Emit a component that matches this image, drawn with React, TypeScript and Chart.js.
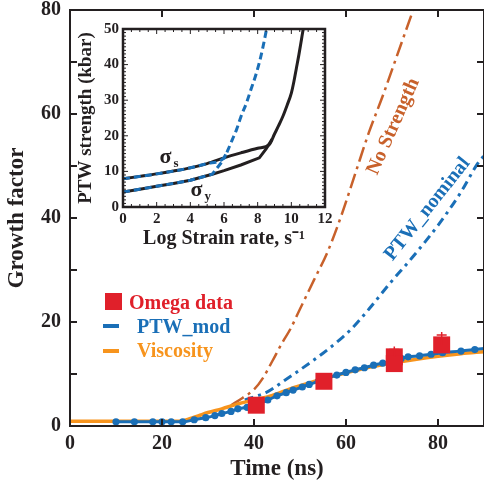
import React, { useEffect, useRef } from 'react';
import { Chart, registerables } from 'chart.js';

Chart.register(...registerables);

const SERIF = '"Liberation Serif", "Times New Roman", Times, serif';
const INK = '#231f20';
const RED = '#e0202a';
const BLUE = '#1a6fb7';
const ORANGE = '#f7941d';
const BROWN = '#c8612b';

// ---------------- main chart data ----------------
const timeTicks = [0, 20, 40, 60, 80];
const growthTicks = [0, 20, 40, 60, 80];
const growthAllTicks = [0, 10, 20, 30, 40, 50, 60, 70, 80];

const omegaTime = [40.5, 55.2, 70.5, 70.5, 80.8];
const omegaGrowth = [4.0, 8.6, 13.3, 12.0, 15.6];
const omegaErrTop = [null, null, 15.3, null, 18.1];

const ptwModTime = [10, 14, 18, 20, 22, 24.5, 27, 29.5, 31.5, 33, 35, 36.5, 38.5, 40.5, 43, 45, 47, 48.5, 50.5, 52, 54, 56, 58, 60, 62, 64, 66, 68, 70, 72, 73.5, 76, 78.5, 81, 85, 88, 90];
const ptwModGrowth = [0.8, 0.8, 0.8, 0.8, 0.8, 0.8, 1.2, 1.6, 2.0, 2.4, 2.8, 3.3, 3.6, 4.2, 5.0, 5.8, 6.4, 6.9, 7.5, 8.0, 8.6, 9.2, 9.8, 10.3, 10.8, 11.2, 11.7, 12.1, 12.5, 13.0, 13.3, 13.5, 13.8, 14.1, 14.4, 14.7, 14.9];

const viscTime = [0, 24, 26, 28, 30, 33, 36, 38, 40, 44, 48, 52, 56, 60, 65, 70, 75, 80, 85, 90];
const viscGrowth = [0.9, 0.9, 1.4, 2.0, 2.6, 3.3, 4.1, 4.6, 5.0, 5.9, 7.2, 8.3, 9.3, 10.2, 11.3, 12.1, 12.8, 13.4, 13.9, 14.3];

const noStrTime = [35, 37.5, 40, 42, 44, 46, 48, 50, 53, 56, 59, 62, 65, 68, 71, 75, 77];
const noStrGrowth = [4.0, 5.4, 7.0, 9.3, 12.5, 15.8, 18.8, 22.5, 28, 33.5, 40.5, 48.5, 56.5, 63.5, 71, 81, 86];

const ptwNomTime = [38, 40, 42.8, 46.7, 50, 55, 59.3, 61, 65, 69.6, 74.3, 80, 85, 88.5, 90];
const ptwNomGrowth = [5.0, 5.6, 6.5, 8.8, 10.8, 14.0, 17.1, 18.5, 22.5, 27.5, 32.3, 38.6, 45, 50.3, 52];

// ---------------- inset data ----------------
const strainTicks = [0, 2, 4, 6, 8, 10, 12];
const strengthTicks = [0, 10, 20, 30, 40, 50];

const sigmaSRate = [0, 1, 2, 3, 4, 5, 6, 7, 8, 8.7, 9, 9.25, 9.5, 9.75, 10, 10.15, 10.3, 10.45, 10.6, 10.7, 10.8];
const sigmaSStrength = [7.9, 8.6, 9.3, 10.1, 11.0, 12.2, 13.8, 15.2, 16.5, 17.6, 20.5, 22.9, 25.5, 28.6, 32, 35.2, 39, 42.8, 47, 49.8, 52];
const sigmaYRate = [0, 1, 2, 3, 4, 5.3, 6, 7, 8.1, 8.5, 8.85];
const sigmaYStrength = [4.2, 5.0, 5.8, 6.6, 7.5, 9.2, 10.2, 11.8, 13.8, 16.3, 19.0];

const modSRate = [0, 2, 4, 5, 6, 6.25, 6.5, 6.75, 7, 7.34, 7.6, 7.93, 8.2, 8.52, 8.6];
const modSStrength = [7.9, 9.3, 11.0, 12.2, 13.8, 16.2, 19, 21.8, 25.3, 29.3, 33, 37.7, 42.5, 49.8, 52];
const modYRate = [0, 2, 4, 5.3, 5.96, 6.1];
const modYStrength = [4.2, 5.8, 7.5, 9.2, 13.2, 14.8];

const pts = (xs: number[], ys: number[]) => xs.map((x, i) => ({ x, y: ys[i] }));

const mainDecor = {
  id: 'mainDecor',
  afterDatasetsDraw(chart: any) {
    const { ctx, chartArea: a, scales } = chart;
    const x = scales.x;
    const y = scales.y;
    ctx.save();
    // error bars
    ctx.strokeStyle = RED;
    ctx.lineWidth = 1.5;
    omegaTime.forEach((t, i) => {
      const top = omegaErrTop[i];
      if (top == null) return;
      const px = x.getPixelForValue(t);
      const p0 = y.getPixelForValue(omegaGrowth[i]);
      const p1 = y.getPixelForValue(top);
      ctx.beginPath();
      ctx.moveTo(px, p0);
      ctx.lineTo(px, p1);
      ctx.moveTo(px - 5, p1 + 3);
      ctx.lineTo(px + 5, p1 + 3);
      ctx.stroke();
    });
    // frame
    ctx.strokeStyle = INK;
    ctx.lineWidth = 2;
    ctx.strokeRect(a.left, a.top, a.right - a.left, a.bottom - a.top);
    ctx.beginPath();
    timeTicks.forEach((v) => {
      const px = x.getPixelForValue(v);
      ctx.moveTo(px, a.bottom);
      ctx.lineTo(px, a.bottom - 7);
      ctx.moveTo(px, a.top);
      ctx.lineTo(px, a.top + 7);
    });
    growthAllTicks.forEach((v) => {
      const py = y.getPixelForValue(v);
      ctx.moveTo(a.left, py);
      ctx.lineTo(a.left + 7, py);
      ctx.moveTo(a.right, py);
      ctx.lineTo(a.right - 7, py);
    });
    ctx.stroke();
    // legend
    const lx = a.left;
    const ly = a.top;
    ctx.fillStyle = RED;
    ctx.fillRect(lx + 35, ly + 283, 17, 17);
    ctx.lineWidth = 4;
    ctx.strokeStyle = BLUE;
    ctx.beginPath();
    ctx.moveTo(lx + 33, ly + 316);
    ctx.lineTo(lx + 49, ly + 316);
    ctx.stroke();
    ctx.strokeStyle = ORANGE;
    ctx.beginPath();
    ctx.moveTo(lx + 33, ly + 341);
    ctx.lineTo(lx + 49, ly + 341);
    ctx.stroke();
    ctx.font = `bold 20px ${SERIF}`;
    ctx.textAlign = 'left';
    ctx.textBaseline = 'alphabetic';
    ctx.fillStyle = RED;
    ctx.fillText('Omega data', lx + 59, ly + 299);
    ctx.fillStyle = BLUE;
    ctx.fillText('PTW_mod', lx + 67, ly + 323);
    ctx.fillStyle = ORANGE;
    ctx.fillText('Viscosity', lx + 67, ly + 347);
    // curve annotations
    const note = (text: string, tx: number, gy: number, deg: number, color: string) => {
      ctx.save();
      ctx.translate(x.getPixelForValue(tx), y.getPixelForValue(gy));
      ctx.rotate((deg * Math.PI) / 180);
      ctx.fillStyle = color;
      ctx.font = `bold 20px ${SERIF}`;
      ctx.textAlign = 'center';
      ctx.textBaseline = 'middle';
      ctx.fillText(text, 0, 0);
      ctx.restore();
    };
    note('No Strength', 70.3, 57.6, -66, BROWN);
    note('PTW_nominal', 77.7, 41.7, -51.5, BLUE);
    ctx.restore();
  },
};

const insetDecor = {
  id: 'insetDecor',
  afterDatasetsDraw(chart: any) {
    const { ctx, chartArea: a, scales } = chart;
    const x = scales.x;
    const y = scales.y;
    ctx.save();
    ctx.strokeStyle = INK;
    ctx.lineWidth = 2.5;
    ctx.strokeRect(a.left, a.top, a.right - a.left, a.bottom - a.top);
    ctx.lineWidth = 1;
    ctx.beginPath();
    for (let v = 0; v <= 12.001; v += 0.5) {
      const px = x.getPixelForValue(v);
      const len = Math.abs(v % 2) < 1e-6 ? 5 : 3;
      ctx.moveTo(px, a.bottom);
      ctx.lineTo(px, a.bottom - len);
      ctx.moveTo(px, a.top);
      ctx.lineTo(px, a.top + len);
    }
    for (let v = 0; v <= 50.001; v += 1) {
      const py = y.getPixelForValue(v);
      const len = v % 10 === 0 ? 5 : 3;
      ctx.moveTo(a.left, py);
      ctx.lineTo(a.left + len, py);
      ctx.moveTo(a.right, py);
      ctx.lineTo(a.right - len, py);
    }
    ctx.stroke();
    const sigma = (sub: string, sx: number, sy: number) => {
      const px = x.getPixelForValue(sx);
      const py = y.getPixelForValue(sy);
      ctx.fillStyle = INK;
      ctx.textAlign = 'center';
      ctx.textBaseline = 'alphabetic';
      ctx.font = `bold 22px ${SERIF}`;
      ctx.fillText('σ', px, py + 5);
      ctx.textAlign = 'left';
      ctx.font = `bold 13px ${SERIF}`;
      ctx.fillText(sub, px + 8, py + 9);
    };
    sigma('s', 2.53, 13.8);
    sigma('y', 4.37, 4.5);
    ctx.restore();
  },
};

export default function App() {
  const mainRef = useRef<HTMLCanvasElement>(null);
  const insetRef = useRef<HTMLCanvasElement>(null);

  useEffect(() => {
    const tickFont = { family: SERIF, size: 20, weight: 'bold' as const };
    const main = new Chart(mainRef.current as HTMLCanvasElement, {
      type: 'line',
      data: {
        datasets: [
          {
            label: 'Omega data',
            data: pts(omegaTime, omegaGrowth),
            showLine: false,
            pointStyle: 'rect',
            pointRadius: 12,
            pointBackgroundColor: RED,
            pointBorderColor: RED,
            pointBorderWidth: 0,
            borderColor: RED,
            backgroundColor: RED,
          },
          {
            label: 'PTW_mod',
            data: pts(ptwModTime, ptwModGrowth),
            borderColor: BLUE,
            backgroundColor: BLUE,
            borderWidth: 3,
            cubicInterpolationMode: 'monotone',
            pointRadius: ptwModTime.map((t) => (t >= 90 ? 0 : 3.6)),
            pointBackgroundColor: BLUE,
            pointBorderWidth: 0,
          },
          {
            label: 'Viscosity',
            data: pts(viscTime, viscGrowth),
            borderColor: ORANGE,
            borderWidth: 3.5,
            cubicInterpolationMode: 'monotone',
            pointRadius: 0,
          },
          {
            label: 'No Strength',
            data: pts(noStrTime, noStrGrowth),
            borderColor: BROWN,
            borderWidth: 2.5,
            borderDash: [15, 5, 3, 5],
            cubicInterpolationMode: 'monotone',
            pointRadius: 0,
          },
          {
            label: 'PTW_nominal',
            data: pts(ptwNomTime, ptwNomGrowth),
            borderColor: BLUE,
            borderWidth: 3,
            borderDash: [9, 5, 3, 5],
            cubicInterpolationMode: 'monotone',
            pointRadius: 0,
          },
        ],
      },
      options: {
        responsive: false,
        animation: false,
        devicePixelRatio: 1,
        layout: { padding: { top: 10, right: 0, bottom: 0, left: 0 }, autoPadding: false },
        plugins: { legend: { display: false }, tooltip: { enabled: false } },
        scales: {
          x: {
            type: 'linear',
            min: 0,
            max: 90,
            afterBuildTicks: (s: any) => {
              s.ticks = timeTicks.map((v) => ({ value: v }));
            },
            afterFit: (s: any) => {
              s.height = 64;
              s.paddingLeft = 0;
              s.paddingRight = 0;
            },
            grid: { display: false, drawTicks: false },
            border: { display: false },
            ticks: { font: tickFont, color: INK, padding: 6, maxRotation: 0 },
            title: {
              display: true,
              text: 'Time (ns)',
              color: INK,
              font: { family: SERIF, size: 23, weight: 'bold' },
              padding: { top: 0, bottom: 7 },
            },
          },
          y: {
            type: 'linear',
            min: 0,
            max: 80,
            afterBuildTicks: (s: any) => {
              s.ticks = growthTicks.map((v) => ({ value: v }));
            },
            afterFit: (s: any) => {
              s.width = 70;
              s.paddingTop = 0;
              s.paddingBottom = 0;
            },
            grid: { display: false, drawTicks: false },
            border: { display: false },
            ticks: { font: tickFont, color: INK, padding: 9 },
            title: {
              display: true,
              text: 'Growth factor',
              color: INK,
              font: { family: SERIF, size: 23, weight: 'bold' },
              padding: { top: 3, bottom: 0 },
            },
          },
        },
      },
      plugins: [mainDecor],
    } as any);

    const insetTickFont = { family: SERIF, size: 15, weight: 'bold' as const };
    const inset = new Chart(insetRef.current as HTMLCanvasElement, {
      type: 'line',
      data: {
        datasets: [
          {
            label: 'PTW_mod σs',
            data: pts(modSRate, modSStrength),
            borderColor: BLUE,
            borderWidth: 3,
            borderDash: [7, 4],
            cubicInterpolationMode: 'monotone',
            pointRadius: 0,
          },
          {
            label: 'PTW_mod σy',
            data: pts(modYRate, modYStrength),
            borderColor: BLUE,
            borderWidth: 3,
            borderDash: [7, 4],
            pointRadius: 0,
          },
          {
            label: 'σs',
            data: pts(sigmaSRate, sigmaSStrength),
            borderColor: INK,
            borderWidth: 3,
            cubicInterpolationMode: 'monotone',
            pointRadius: 0,
          },
          {
            label: 'σy',
            data: pts(sigmaYRate, sigmaYStrength),
            borderColor: INK,
            borderWidth: 3,
            pointRadius: 0,
          },
        ],
      },
      options: {
        responsive: false,
        animation: false,
        devicePixelRatio: 1,
        layout: { padding: { top: 7, right: 15, bottom: 0, left: 0 }, autoPadding: false },
        plugins: { legend: { display: false }, tooltip: { enabled: false } },
        scales: {
          x: {
            type: 'linear',
            min: 0,
            max: 12,
            afterBuildTicks: (s: any) => {
              s.ticks = strainTicks.map((v) => ({ value: v }));
            },
            afterFit: (s: any) => {
              s.height = 50;
              s.paddingLeft = 0;
              s.paddingRight = 0;
            },
            grid: { display: false, drawTicks: false },
            border: { display: false },
            ticks: { font: insetTickFont, color: INK, padding: 3, maxRotation: 0 },
            title: {
              display: true,
              text: 'Log Strain rate, s⁻¹',
              color: INK,
              font: { family: SERIF, size: 20, weight: 'bold' },
              padding: { top: 0, bottom: 6 },
            },
          },
          y: {
            type: 'linear',
            min: 0,
            max: 50,
            afterBuildTicks: (s: any) => {
              s.ticks = strengthTicks.map((v) => ({ value: v }));
            },
            afterFit: (s: any) => {
              s.width = 53;
              s.paddingTop = 0;
              s.paddingBottom = 0;
            },
            grid: { display: false, drawTicks: false },
            border: { display: false },
            ticks: { font: insetTickFont, color: INK, padding: 4 },
            title: {
              display: true,
              text: 'PTW strength (kbar)',
              color: INK,
              font: { family: SERIF, size: 19, weight: 'bold' },
              padding: { top: 5, bottom: 0 },
            },
          },
        },
      },
      plugins: [insetDecor],
    } as any);

    return () => {
      main.destroy();
      inset.destroy();
    };
  }, []);

  return (
    <div style={{ position: 'absolute', left: 0, top: 0, width: 484, height: 490, background: '#fff' }}>
      <canvas ref={mainRef} width={484} height={490} style={{ position: 'absolute', left: 0, top: 0 }} />
      <canvas ref={insetRef} width={270} height={235} style={{ position: 'absolute', left: 70, top: 22 }} />
    </div>
  );
}
